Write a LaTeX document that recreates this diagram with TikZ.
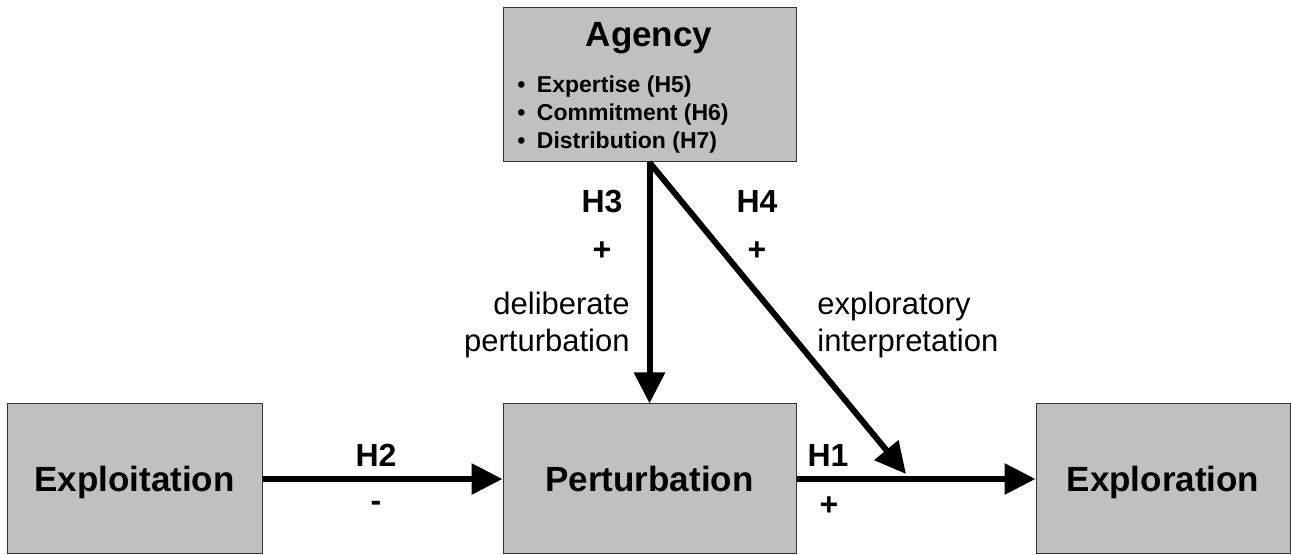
\documentclass[tikz,border=0pt]{standalone}
\usepackage{fontspec}
\setmainfont{Liberation Sans}
\usetikzlibrary{arrows.meta}
\definecolor{boxgray}{RGB}{192,192,192}

\begin{document}
\begin{tikzpicture}[x=0.5pt,y=-0.5pt,
    box/.style={draw=black!80,line width=0.5pt,fill=boxgray,inner sep=0pt,
      minimum height=75pt,text depth=0pt,font=\fontsize{17.5}{21}\selectfont\bfseries},
    hyp/.style={font=\fontsize{16}{19}\selectfont\bfseries,inner sep=0pt,anchor=base},
    note/.style={font=\fontsize{15.5}{18.5}\selectfont,inner sep=0pt},
    item/.style={font=\fontsize{11.5}{14}\selectfont\bfseries,inner sep=0pt,anchor=base west},
    link/.style={line width=3pt,-{Triangle[length=15.5pt,width=15pt]}}]
          \useasboundingbox (0,0) rectangle (1291,555);
          % boxes
          \node[box,minimum width=127.5pt] (exploit) at (134.5,479) {Exploitation};
          \node[box,minimum width=146.5pt] (perturb) at (649.5,479) {Perturbation};
          \node[box,minimum width=127pt] (explore) at (1163,479) {Exploration};
          \node[box,minimum width=146.5pt,minimum height=77pt] (agency) at (649.5,85) {};
          \node[font=\fontsize{17.5}{21}\selectfont\bfseries,inner sep=0pt,anchor=base] (agencytitle) at (649,47) {Agency};
          \node[item] (h5) at (517,93) {\textbullet\enspace Expertise (H5)};
          \node[item] (h6) at (517,121) {\textbullet\enspace Commitment (H6)};
          \node[item] (h7) at (517,149) {\textbullet\enspace Distribution (H7)};
          % arrows
          \coordinate (meet) at (906,474);
          \draw[link] (exploit) -- (perturb);
          \draw[link] (perturb) -- (explore);
          \draw[link] (agency.south) -- (perturb.north);
          \draw[link] (agency.south) -- (meet);
          % labels
          \node[hyp] (h2) at (376,467) {H2};
          \node[hyp] (h2sign) at (376,512) {-};
          \node[hyp] (h1) at (828,467) {H1};
          \node[hyp] (h1sign) at (829,516) {+};
          \node[hyp] (h3) at (602,213) {H3};
          \node[hyp] (h3sign) at (602,261) {+};
          \node[hyp] (h4) at (757,213) {H4};
          \node[hyp] (h4sign) at (757,261) {+};
          \node[note,align=right,anchor=base east] (delib) at (630,352) {deliberate\\perturbation};
          \node[note,align=left,anchor=base west] (explint) at (817,352) {exploratory\\interpretation};
        \end{tikzpicture}
\end{document}
